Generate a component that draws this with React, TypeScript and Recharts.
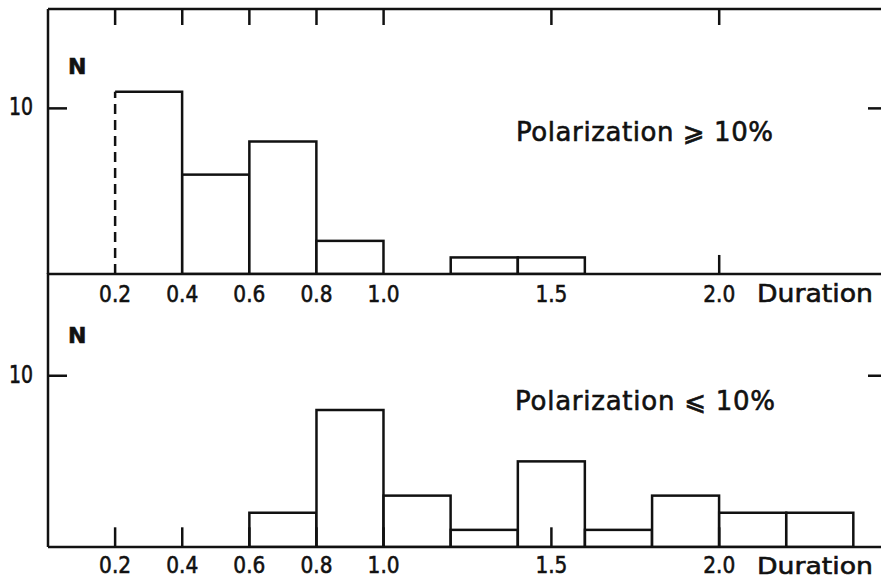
import { Bar, BarChart, ReferenceLine, XAxis, YAxis } from "recharts";

const BIN_WIDTH = 0.2;
const X_DOMAIN: [number, number] = [0, 2.5];
const Y_DOMAIN: [number, number] = [0, 16];

const durationTicks = [0.2, 0.4, 0.6, 0.8, 1.0, 1.5, 2.0];
const durationTickLabels = ["0.2", "0.4", "0.6", "0.8", "1.0", "1.5", "2.0"];
const countTicks = [10];

// polarization >= 10%
const highPolBinStarts = [0.2, 0.4, 0.6, 0.8, 1.0, 1.2, 1.4];
const highPolCounts = [11, 6, 8, 2, 0, 1, 1];
// polarization <= 10%
const lowPolBinStarts = [0.6, 0.8, 1.0, 1.2, 1.4, 1.6, 1.8, 2.0, 2.2];
const lowPolCounts = [2, 8, 3, 1, 5, 1, 3, 2, 2];

// inward tick marks on the base line that are visible in each panel
const highPolBaseMarks = [2.0];
const lowPolBaseMarks = durationTicks;

// first bin of the upper panel only has a dashed left edge
const dashedBinStart = 0.2;

const INK = "#111";
const LINE_W = 2.5;
const MARK_LEN = 1.15; // in counts
const FONT = "'DejaVu Sans', sans-serif";

const toRows = (starts: number[], counts: number[]) =>
  starts.map((start, i) => ({ start, mid: start + BIN_WIDTH / 2, count: counts[i] }));

const highData = toRows(highPolBinStarts, highPolCounts);
const lowData = toRows(lowPolBinStarts, lowPolCounts);

function HistBar(props: any) {
  const { x, y, width, height, payload } = props;
  if (!height || height <= 0) return null;
  const bottom = y + height;
  const right = x + width;
  if (payload && payload.start === dashedBinStart) {
    return (
      <g>
        <rect x={x} y={y} width={width} height={height} fill="#fff" />
        <line x1={x} y1={bottom} x2={x} y2={y} stroke={INK} strokeWidth={LINE_W} strokeDasharray="10 6" />
        <path d={`M${x},${y} H${right} V${bottom}`} fill="none" stroke={INK} strokeWidth={LINE_W} />
      </g>
    );
  }
  return <rect x={x} y={y} width={width} height={height} fill="#fff" stroke={INK} strokeWidth={LINE_W} />;
}

const makeBottomTick = (labelDy: number) => (props: any) => {
  const { x, y, payload } = props;
  const label = durationTickLabels[durationTicks.indexOf(payload.value)];
  return (
    <text
      x={x}
      y={y + labelDy}
      textAnchor="middle"
      fontFamily={FONT}
      fontSize={23}
      fill={INK}
      stroke={INK}
      strokeWidth={0.6}
      textLength={32}
      lengthAdjust="spacingAndGlyphs"
    >
      {label}
    </text>
  );
};

const FrameTick = (props: any) => {
  const { x, y } = props;
  return <line x1={x} x2={x} y1={y} y2={y + 16} stroke={INK} strokeWidth={LINE_W} />;
};

const LeftTick = (props: any) => {
  const { x, y, payload } = props;
  return (
    <g>
      <line x1={x} x2={x + 19} y1={y} y2={y} stroke={INK} strokeWidth={LINE_W} />
      <text
        x={x - 15}
        y={y + 7}
        textAnchor="end"
        fontFamily={FONT}
        fontSize={24}
        fill={INK}
        stroke={INK}
        strokeWidth={0.6}
        textLength={24}
        lengthAdjust="spacingAndGlyphs"
      >
        {payload.value}
      </text>
    </g>
  );
};

const RightTick = (props: any) => {
  const { x, y } = props;
  return <line x1={x - 19} x2={x} y1={y} y2={y} stroke={INK} strokeWidth={LINE_W} />;
};

const axisStyle = { stroke: INK, strokeWidth: LINE_W };

interface PanelProps {
  data: { start: number; mid: number; count: number }[];
  top: number;
  height: number;
  frame: boolean;
  marks: number[];
  labelDy: number;
}

function Panel({ data, top, height, frame, marks, labelDy }: PanelProps) {
  return (
    <div style={{ position: "absolute", left: 0, top, width: 900, height }}>
      <BarChart
        width={900}
        height={height}
        data={data}
        margin={{ top: 0, right: 0, bottom: 0, left: 0 }}
        barCategoryGap={0}
        barGap={0}
      >
        {frame && (
          <XAxis
            xAxisId="frame"
            orientation="top"
            type="number"
            dataKey="mid"
            domain={X_DOMAIN}
            ticks={durationTicks}
            interval={0}
            height={9}
            tickSize={0}
            tickMargin={0}
            tickLine={false}
            axisLine={axisStyle}
            tick={FrameTick}
            allowDataOverflow
          />
        )}
        <XAxis
          type="number"
          dataKey="mid"
          domain={X_DOMAIN}
          ticks={durationTicks}
          interval={0}
          height={36}
          tickSize={0}
          tickMargin={0}
          tickLine={false}
          axisLine={axisStyle}
          tick={makeBottomTick(labelDy)}
          allowDataOverflow
        />
        <YAxis
          domain={Y_DOMAIN}
          ticks={countTicks}
          width={48}
          tickSize={0}
          tickMargin={0}
          tickLine={false}
          axisLine={axisStyle}
          tick={LeftTick}
          allowDataOverflow
        />
        <YAxis
          yAxisId="right"
          orientation="right"
          domain={Y_DOMAIN}
          ticks={countTicks}
          width={13}
          tickSize={0}
          tickMargin={0}
          tickLine={false}
          axisLine={axisStyle}
          tick={RightTick}
          allowDataOverflow
        />
        <Bar dataKey="count" shape={HistBar} isAnimationActive={false} />
        {marks.map((m) => (
          <ReferenceLine
            key={m}
            segment={[
              { x: m, y: 0 },
              { x: m, y: MARK_LEN },
            ]}
            stroke={INK}
            strokeWidth={LINE_W}
            ifOverflow="visible"
          />
        ))}
      </BarChart>
    </div>
  );
}

export default function App() {
  const textProps = { fontFamily: FONT, fill: INK, stroke: INK, strokeWidth: 0.6 };
  return (
    <div style={{ position: "fixed", left: 0, top: 0, width: 881, height: 579, overflow: "hidden", background: "#fff" }}>
      <Panel data={highData} top={0} height={310} frame marks={highPolBaseMarks} labelDy={28} />
      <Panel data={lowData} top={273} height={310} frame={false} marks={lowPolBaseMarks} labelDy={26} />
      <svg width={881} height={579} style={{ position: "absolute", left: 0, top: 0, pointerEvents: "none" }}>
        <text x={68} y={74} fontSize={22} fontWeight="bold" {...textProps}>N</text>
        <text x={68} y={343} fontSize={22} fontWeight="bold" {...textProps}>N</text>
        <text x={516} y={141} fontSize={26} textLength={257} lengthAdjust="spacing" {...textProps}>
          Polarization ⩾ 10%
        </text>
        <text x={515} y={410} fontSize={26} textLength={260} lengthAdjust="spacing" {...textProps}>
          Polarization ⩽ 10%
        </text>
        <text x={757} y={302} fontSize={24} textLength={116} lengthAdjust="spacingAndGlyphs" {...textProps}>Duration</text>
        <text x={757} y={574} fontSize={23} textLength={116} lengthAdjust="spacingAndGlyphs" {...textProps}>Duration</text>
      </svg>
    </div>
  );
}
